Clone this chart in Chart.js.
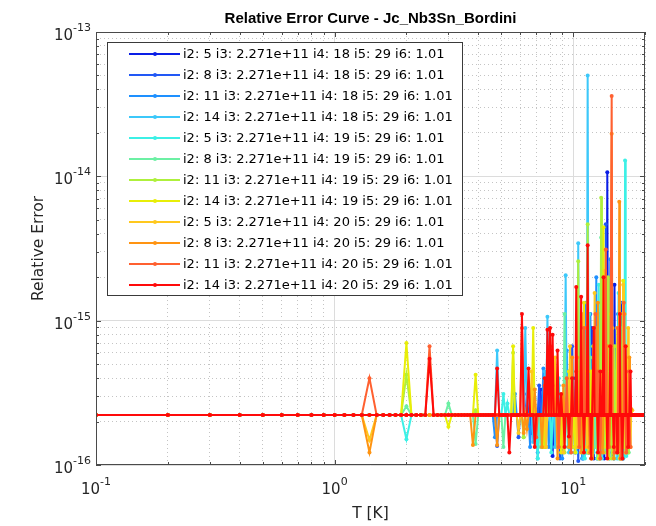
<!DOCTYPE html>
<html>
<head>
<meta charset="utf-8">
<script src="https://cdn.jsdelivr.net/npm/chart.js@4.4.0/dist/chart.umd.min.js"></script>
<style>
  html, body { margin: 0; padding: 0; background: #fff; }
  #wrap { width: 656px; height: 526px; }
</style>
</head>
<body>
<div id="wrap"><canvas id="chart" width="656" height="526"></canvas></div>
<script>
// relative error values are stored in units of machine eps
const EPS = 2.220446049250313e-16;

const T = [
  0.1,0.2,0.3,0.4,0.5,0.6,0.7,0.8,0.9,1.0, 1.1,1.2,1.3,1.4,1.5,1.6,1.7,1.8,1.9,2.0,
  2.1,2.2,2.3,2.4,2.5,2.6,2.7,2.8,2.9,3.0, 3.1,3.2,3.3,3.4,3.5,3.6,3.7,3.8,3.9,4.0,
  4.1,4.2,4.3,4.4,4.5,4.6,4.7,4.8,4.9,5.0, 5.1,5.2,5.3,5.4,5.5,5.6,5.7,5.8,5.9,6.0,
  6.1,6.2,6.3,6.4,6.5,6.6,6.7,6.8,6.9,7.0, 7.1,7.2,7.3,7.4,7.5,7.6,7.7,7.8,7.9,8.0,
  8.1,8.2,8.3,8.4,8.5,8.6,8.7,8.8,8.9,9.0, 9.1,9.2,9.3,9.4,9.5,9.6,9.7,9.8,9.9,10.0,
  10.1,10.2,10.3,10.4,10.5,10.6,10.7,10.8,10.9,11.0, 11.1,11.2,11.3,11.4,11.5,11.6,11.7,11.8,11.9,12.0,
  12.1,12.2,12.3,12.4,12.5,12.6,12.7,12.8,12.9,13.0, 13.1,13.2,13.3,13.4,13.5,13.6,13.7,13.8,13.9,14.0,
  14.1,14.2,14.3,14.4,14.5,14.6,14.7,14.8,14.9,15.0, 15.1,15.2,15.3,15.4,15.5,15.6,15.7,15.8,15.9,16.0,
  16.1,16.2,16.3,16.4,16.5,16.6,16.7,16.8,16.9,17.0, 17.1,17.2,17.3,17.4,17.5,17.6,17.7,17.8,17.9,18.0,
  18.1,18.2,18.3,18.4,18.5,18.6,18.7,18.8,18.9,19.0, 19.1,19.2,19.3,19.4,19.5,19.6,19.7,19.8,19.9,20.0
];

const seriesLabels = [
  'i2: 5 i3: 2.271e+11 i4: 18 i5: 29 i6: 1.01',
  'i2: 8 i3: 2.271e+11 i4: 18 i5: 29 i6: 1.01',
  'i2: 11 i3: 2.271e+11 i4: 18 i5: 29 i6: 1.01',
  'i2: 14 i3: 2.271e+11 i4: 18 i5: 29 i6: 1.01',
  'i2: 5 i3: 2.271e+11 i4: 19 i5: 29 i6: 1.01',
  'i2: 8 i3: 2.271e+11 i4: 19 i5: 29 i6: 1.01',
  'i2: 11 i3: 2.271e+11 i4: 19 i5: 29 i6: 1.01',
  'i2: 14 i3: 2.271e+11 i4: 19 i5: 29 i6: 1.01',
  'i2: 5 i3: 2.271e+11 i4: 20 i5: 29 i6: 1.01',
  'i2: 8 i3: 2.271e+11 i4: 20 i5: 29 i6: 1.01',
  'i2: 11 i3: 2.271e+11 i4: 20 i5: 29 i6: 1.01',
  'i2: 14 i3: 2.271e+11 i4: 20 i5: 29 i6: 1.01'
];

const seriesColors = [
  '#0a1ee6', '#2258f5', '#1e90ff', '#3cc8fa', '#3cf0e6', '#6cf0a4',
  '#aef03c', '#e8ee08', '#ffc81e', '#ff9412', '#ff6030', '#ff0a0a'
];

const errS1 = [
  1,1,1,1,1,1,1,1,1,1, 1,1,1,1,1,1,1,1,1,1, 1,1,1,1,1,1,1,1,1,1, 1,1,1,1,1,1,1,1,1,1, 1,1,1,1,1,1,1,1,1,1,
  1,1,1,1,1,1,1,1,1,1, 1,1,1,1,1,1,0.75,1,1,1, 1,1,1.5,1,1,0.6,1,1,1.3,1, 1,0.52,1,1,1,1.5,1,0.6,1,1, 0.67,1,1,1,2,1,1,0.6,1,1.8,
  1,0.55,1,2,1,1.5,1,0.6,1,0.5, 1,3,1,2.2,1,0.55,1,0.6,1,4, 1,0.5,3,1,1.6,1,0.55,1,5,1, 1.8,1,0.6,1,0.5,1,2,1,48,1, 1,0.6,1,3,2.5,1,0.53,1,8,1,
  1,0.6,3,1,1,0.55,1,2,6,1, 1,0.5,1,4,2,1,0.6,0.55,1,1.5
];
const errS2 = [
  1,1,1,1,1,1,1,1,1,1, 1,1,1,1,1,1,1,1,1,1, 1,1,1,1,1,1,1,1,1,1, 1,1,1,1,1,1,1,1,1,1, 1,1,1,1,1,1,1,0.61,1,1,
  1,1,1,1,1,1,1,1,0.7,1, 1,1,1,1.4,1,1,1,1,1,1, 1,1.6,1,1,0.6,1,1,2,1,1, 0.6,1,1,1.5,1,1,1,0.5,1,1, 1,1,2.5,1,1,1,0.65,1,3,1,
  1,1,1.8,1,0.48,1,1,2,1,1, 3,1,0.55,1,1,0.6,1,5,1,1, 1,0.6,1,1.75,1,0.5,1,1,1,4, 1,0.6,1,0.55,1,1,21,1,1,2.5, 0.6,1,1,7,1,0.55,1,0.5,1,3,
  1,2.5,1,0.55,0.6,1,1,4,1,1, 0.52,1,1,1.8,1,1,0.6,1
];
const errS3 = [
  1,1,1,1,1,1,1,1,1,1, 1,1,1,1,1,1,1,1,1,1, 1,1,1,1,1,1,1,1,1,1, 1,1,1,1,1,1,1,1,1,1, 1,1,1,1,1,1,0.7,1,1,1,
  1,1,1,1,1,1,1.4,1,1,1, 1,1,1,1,1,0.6,1,1,1,1, 0.55,1,1,1,2.1,1,1,1,0.6,1, 1,1.5,1,1,1.6,1,1,0.6,1,0.5, 1,1,1,2.8,1,1,1,1,0.6,1,
  1,1,1,4,1,0.6,1,1,0.5,1, 2,1,6,1,1,0.55,1,1,0.55,1, 1,3,1,1,9,1,0.6,1,0.5,1, 1,1,2.5,1,1,4,1,0.6,1,1, 1,0.5,12,1,1,2,1,0.55,1,1,
  1,0.6,1,5,1,1,0.5,1,2,3, 1,1,0.6,1,1,1.5
];
const errS4 = [
  1,1,1,1,1,1,1,1,1,1, 1,1,1,1,1,1,1,1,1,1, 1,1,1,1,1,1,1,1,1,1, 1,1,1,1,1,1,1,1,1,1, 1,1,1,1,1,1,1,2.8,1,1,
  1,1,1,1,1,1,1,1,1,1, 1,1,4,1,1,1,1,0.65,1,1, 0.5,1,1,1,1,2,1,4.8,1,1, 1,1,1,0.6,1,1,1.6,1,1,1, 1,1,9.3,1,1,0.55,1,1,2,1,
  1,0.6,1,1,15.5,1,1,3,1,0.5, 1,1,0.55,1,225,1,1,1,1,0.6, 1,4,1,1,3,1,1,1,0.5,1, 2,1,1,1,5,1,0.6,1,0.55,1, 1,7,1,1,2,1,1,1,0.6,1,
  1,1,0.5,1,3,1,6,1,1,0.55, 0.5,1,1,1,2.5,1
];
const errS5 = [
  1,1,1,1,1,1,1,1,1,1, 1,1,1,1,1,1,1,1,1,0.68, 1,1,1,1,1,1,1,1,1,1, 1,1,1,1,1,1,1,1,1,1, 1,1,1,1,1,1,1,1,1,1,
  1.4,1,1.2,1,1,1,1,1,1,1, 1,1,1,1,1,1,1,1,1.3,1, 0.5,1,1,1,1,1,1.8,1,1,1, 0.55,1,1,1,1,1,1.8,1,1,0.6, 1,1,1,1,0.6,1,1,2.2,1,1,
  1,1,0.55,1,1,1,3,1,1,1, 1,0.5,1,1,1,1,5,1,1,0.6, 1,0.55,1,2,1,1,1,8,1,1, 1,0.5,1,1,3,1,1,0.6,1,4, 1,1,1,0.6,1,1,2,1,0.5,1,
  1,0.6,1,1,7,1,1,1,0.55,1, 1,0.5,1,1,58,1,0.52,1,1.4
];
const errS6 = [
  1,1,1,1,1,1,1,1,1,1, 1,1,1,1,1,1,1,1,1,1.15, 1,1,1,1,1,1,1,1,1,1.2, 1,1,1,1,1,1,1,1,0.63,1, 1,1,1,1,1,1,1,1,1,1,
  0.6,1,1,1,1,1,1,1,1,1, 1,0.7,1,1,1,1,1.5,1,1,1, 1,1,0.6,1,1,1,1,1.4,1,1, 1,1,1.5,1,1,0.6,1,1,1,1, 1,5,1,1,1,1,1,0.55,1,1,
  1,1,0.6,1,1,2,1,1,4,1, 1,1,1,1,0.55,1,1,2.5,1,1, 3,1,1,0.6,1,0.5,1,1,1,1, 17,1,1,1,1,0.6,1,1,3,1, 1,6,1,1,1,1,0.55,1,1,2,
  1,3,1,1,1,0.5,1,1,1,2, 1,1,1,0.6,1,1,1,1.6,1,1, 0.55,1
];
const errS7 = [
  1,1,1,1,1,1,1,1,1,1, 1,1,1,1,1,1,1,1,1,1.9, 1,1,1,1,1,1,1,1,1,1, 1,1,1,1,1,1,1,1,1.08,1, 1,1,1,1,1,1,1,1,1,1,
  1,1,1,1,1,2.7,1,1,1,1, 1,0.7,1,1,1,1,1,1,1,1, 1,1,1,1,1,0.6,1,1,2.2,1, 1,1,1,1,1.7,1,1,1,0.6,1, 1,0.55,1,1,1,1.5,1,1,0.6,1,
  1,1,1,1,11.6,1,1,0.6,1,0.55, 1,2,1,1,21,1,1,1,0.5,1, 1,1,1,1,4,1,0.6,1,1,1, 32,1,1,1,0.55,1,1,3,1,9, 1,1,0.6,1,0.5,1,1,1,3,1,
  1,1,1,0.55,1,1,1,5,1,1, 1,1,0.6,1,1,1,2.5,1,1,0.55, 1
];
const errS8 = [
  1,1,1,1,1,1,1,1,1,1, 1,1,1,1,1,1,1,1,1,3.15, 1,1,1,1,1,1,1,1,1,0.83, 1,1,1,1,1,1,1,1,1.9,1, 1,1,1,1,1,1,1,1,1,1,
  1,1,1,1,1,3,1,1,1,1, 1,1,1,1,1,1,1,4,1,1, 1,1,1,1,0.6,1,1,1,1,1, 1,1.8,1,1,1,1,1,1,0.55,1, 1,1,1,1,1,2,1,1,0.6,1,
  1,0.55,1,1,0.6,1,1,1.8,1,1, 6,1,1,1,1,0.55,1,1,2,1, 1,3,1,1,2.4,1,1,0.5,1,1, 0.6,1,1,20,1,1,1,0.6,1,1, 0.5,1,1,5,1,1,1,0.55,1,1,
  1,1,4,1,1,1,0.5,1,1,1, 1,8.5,1,1,1,0.55,1,1,1,2, 1,1,0.6
];
const errS9 = [
  1,1,1,1,1,1,1,1,1,1, 1,1,1,0.67,1,1,1,1,1,1, 1,1,1,1,1,1,1,1,1,1, 1,1,1,1,1,1,1,1,1,1, 1,1,1,1,1,1,1,1,1,1,
  1,1,1,1,1,1,1,1,0.75,1, 1,1,1,1,1,1,2,1,1,1, 1,1,1,1,1,1,0.6,1,1,1.5, 1,1,1,2.5,1,1,0.6,1,1,1, 0.55,1,1,1,1,1,3,1,1,1,
  1,1,1,0.6,1,1,2,1,1,5, 1,1,1,0.6,1,1,0.55,1,1,1, 1,1,7,1,1,1,1,1,0.5,1, 1,2,1,1,1,10,1,1,0.6,1, 0.6,1,1,1,1,4,1,1,1,0.55,
  1,1,1,1,3,1,1,1,0.5,1, 1,8,1,1,1,0.55,1,1,1,4, 1,1,1,0.6,1,1,1.08
];
const errS10 = [
  1,1,1,1,1,1,1,1,1,1, 1,1,1,0.55,1,1,1,1,1,1, 1,1,1,1,1,1,1,1,1,1, 1,1,1,1,1,1,1,0.62,1,1, 1,1,1,1,1,1,1,0.62,1,1,
  1,1,1,1,1,1,1,1,1,1, 1,0.75,1,0.8,1,1,1,1,1.5,1, 1,1,1,0.6,1,1,1,1,1,1, 1,1.6,1,1,1,0.5,1,1,1,1, 1.6,1,1,1,1,0.6,1,1,2.5,1,
  1,1,1,2.5,1,1,1,0.55,1,1, 1,1,1,4,1,1,0.6,1,1,0.5, 1,1,2,1,1,1,6,1,1,1, 1,1,0.55,1,1,1,1,1,3,1, 1,0.6,1,1,89,1,1,0.5,1,1,
  1,1,0.55,1,1,30,1,1,1,0.5, 1,1,1,5,1,1,1,0.6,1,1, 1,2.5,1,1,1.1
];
const errS11 = [
  1,1,1,1,1,1,1,1,1,1, 1,1,1,1.8,1,1,1,1,1,1, 1,1,1,1,3,1,1,1,1,1, 1,1,1,1,1,1,1,1,1,1, 1,1,1,1,1,1,1,1,1,1,
  1,1,1,1,1,1,1,1,1,1, 4,1,1,1,1,1,1,1,1,0.7, 1,1,1,1,1,1.6,1,1,1,3, 1,1,1,1,1,1,0.6,1,1,1, 1,1,1,1.8,1,1,1,0.55,1,1,
  1,1,2,1,1,0.6,1,1,1,1, 4,1,1,1,1,1,1,0.55,1,1, 1,1,1,5,1,1,2,1,1,0.5, 1,1,1,1,1,1,14,1,1,1, 0.6,1,1,1,162,1,1,1,0.55,1,
  1,1,1,4,1,1,1,0.5,1,1, 1,1,6,1,1,1,0.55,1,1,1, 2,1,1,0.6
];
const errS12 = [
  1,1,1,1,1,1,1,1,1,1, 1,1,1,1,1,1,1,1,1,1, 1,1,1,1,2.45,1,1,1,1,1, 1,1,1,1,1,1,1,1,1,1, 1,1,1,1,1,1,1,2.1,1,1,
  1,1,1,0.55,1,1,1,1,1,1, 5,1,1,1,2.1,1,1,1,0.6,1, 1,1,1,1,1,1.8,1,3.9,1,4, 1,3.6,1,1,1,2.8,1,1,1.4,1, 1,0.6,1,1,1,0.71,1,1,1.8,1,
  1,1,7.7,1,1,1,1,6.6,1,1, 0.55,1,1,1,15,1,1,1,0.5,1, 1,4,1,1,1,1,0.55,1,1,2, 1,1,1,9,1,1,1,1,0.5,1, 1,1,3,1,1,1,1,0.6,1,1,
  1,1,0.55,1,1,1,5,1,1,1, 0.5,1,1,1,1,3,1,1,1,0.6, 1,1,1,2,1,1,1,1,1,1, 1,1,1,1,1,1,1,1,1,1, 1,1,1,1,1,1,1,1,1,1
];
const errSeries = [errS1, errS2, errS3, errS4, errS5, errS6, errS7, errS8, errS9, errS10, errS11, errS12];

// axis limits and decade tick labels
const xMin = 0.1, xMax = 20;
const yMin = 1e-16, yMax = 1e-13;
const xMajorTicks = [0.1, 1, 10];
const xTickExps = ['-1', '0', '1'];
const yMajorTicks = [1e-16, 1e-15, 1e-14, 1e-13];
const yTickExps = ['-16', '-15', '-14', '-13'];

function logTicks(majors, max) {
  const out = [];
  majors.forEach(m => {
    for (let k = 1; k <= 9; k++) {
      const v = m * k;
      if (v <= max * 1.0000001) out.push(v);
    }
  });
  if (out[out.length - 1] < max) out.push(max);
  return out;
}
const xAllTicks = logTicks(xMajorTicks, xMax);
const yAllTicks = logTicks(yMajorTicks.slice(0, 3), yMax);

function isDecade(v) {
  const l = Math.log10(v);
  return Math.abs(l - Math.round(l)) < 1e-6;
}

const FONT = 'DejaVu Sans';

const datasets = errSeries.map((vals, i) => ({
  label: seriesLabels[i],
  data: vals.map((v, k) => ({ x: T[k], y: v * EPS })),
  borderColor: seriesColors[i],
  backgroundColor: seriesColors[i],
  borderWidth: 2,
  pointRadius: 2,
  pointBorderWidth: 0,
  pointHoverRadius: 0,
  tension: 0,
  order: errSeries.length - i
}));

// frame, inward ticks, exponent labels, titles and the boxed legend
const matlabLook = {
  id: 'matlabLook',
  afterDraw(chart) {
    const ctx = chart.ctx;
    const a = chart.chartArea;
    const xs = chart.scales.x, ys = chart.scales.y;
    ctx.save();

    // frame
    ctx.strokeStyle = '#4a4a4a';
    ctx.lineWidth = 1;
    ctx.strokeRect(a.left + 0.5, a.top + 0.5, a.right - a.left - 1, a.bottom - a.top - 1);

    // inward ticks
    ctx.beginPath();
    xAllTicks.forEach(v => {
      const px = Math.round(xs.getPixelForValue(v)) + 0.5;
      const len = isDecade(v) ? 5 : 3;
      ctx.moveTo(px, a.bottom); ctx.lineTo(px, a.bottom - len);
      ctx.moveTo(px, a.top); ctx.lineTo(px, a.top + len);
    });
    yAllTicks.forEach(v => {
      const py = Math.round(ys.getPixelForValue(v)) + 0.5;
      const len = isDecade(v) ? 5 : 3;
      ctx.moveTo(a.left, py); ctx.lineTo(a.left + len, py);
      ctx.moveTo(a.right, py); ctx.lineTo(a.right - len, py);
    });
    ctx.stroke();

    // tick labels 10^n
    ctx.fillStyle = '#262626';
    ctx.textBaseline = 'alphabetic';
    const baseFont = '15px ' + FONT, expFont = '11px ' + FONT;
    xMajorTicks.forEach((v, i) => {
      const px = xs.getPixelForValue(v);
      ctx.font = baseFont;
      const w1 = ctx.measureText('10').width;
      ctx.font = expFont;
      const w2 = ctx.measureText(xTickExps[i]).width;
      const x0 = px - (w1 + w2) / 2;
      ctx.font = baseFont;
      ctx.textAlign = 'left';
      ctx.fillText('10', x0, a.bottom + 29);
      ctx.font = expFont;
      ctx.fillText(xTickExps[i], x0 + w1, a.bottom + 20);
    });
    yMajorTicks.forEach((v, i) => {
      const py = ys.getPixelForValue(v);
      ctx.font = expFont;
      const w2 = ctx.measureText(yTickExps[i]).width;
      const xr = a.left - 5;
      ctx.textAlign = 'right';
      ctx.fillText(yTickExps[i], xr, py - 1);
      ctx.font = baseFont;
      ctx.fillText('10', xr - w2, py + 8);
    });

    // title and axis labels
    const cx = (a.left + a.right) / 2;
    ctx.textAlign = 'center';
    ctx.fillStyle = '#000';
    ctx.font = 'bold 15px "Liberation Sans"';
    ctx.fillText('Relative Error Curve - Jc_Nb3Sn_Bordini', cx, 23);
    ctx.fillStyle = '#262626';
    ctx.font = '15.5px ' + FONT;
    ctx.fillText('T [K]', cx, a.bottom + 53);
    ctx.save();
    ctx.translate(43, (a.top + a.bottom) / 2);
    ctx.rotate(-Math.PI / 2);
    ctx.fillText('Relative Error', 0, 0);
    ctx.restore();

    // legend box
    const lx = 107, ly = 42, lw = 355, lh = 253, rowH = 21;
    ctx.fillStyle = '#fff';
    ctx.fillRect(lx, ly, lw, lh);
    ctx.strokeStyle = '#3a3a3a';
    ctx.lineWidth = 1;
    ctx.strokeRect(lx + 0.5, ly + 0.5, lw, lh);
    ctx.font = '13px ' + FONT;
    ctx.textAlign = 'left';
    ctx.textBaseline = 'middle';
    chart.data.datasets.forEach((ds, i) => {
      const y = ly + 12 + i * rowH;
      ctx.strokeStyle = ds.borderColor;
      ctx.lineWidth = 2;
      ctx.beginPath();
      ctx.moveTo(129, y); ctx.lineTo(180, y);
      ctx.stroke();
      ctx.fillStyle = ds.borderColor;
      ctx.beginPath();
      ctx.arc(155, y, 2, 0, Math.PI * 2);
      ctx.fill();
      ctx.fillStyle = '#000';
      ctx.fillText(ds.label, 183, y + 1);
    });
    ctx.restore();
  }
};

new Chart(document.getElementById('chart'), {
  type: 'line',
  data: { datasets },
  options: {
    responsive: false,
    animation: false,
    devicePixelRatio: 1,
    layout: { padding: { left: 96, right: 11, top: 32, bottom: 61 } },
    plugins: { legend: { display: false }, tooltip: { enabled: false }, title: { display: false } },
    scales: {
      x: {
        type: 'logarithmic',
        min: xMin, max: xMax,
        afterBuildTicks: s => { s.ticks = xAllTicks.map(v => ({ value: v })); },
        ticks: { display: false },
        grid: {
          drawTicks: false,
          color: c => isDecade(c.tick.value) ? '#dcdcdc' : '#c4c4c4',
          lineWidth: 1
        },
        border: { display: false, dash: c => isDecade(c.tick.value) ? [] : [1, 3] }
      },
      y: {
        type: 'logarithmic',
        min: yMin, max: yMax,
        afterBuildTicks: s => { s.ticks = yAllTicks.map(v => ({ value: v })); },
        ticks: { display: false },
        grid: {
          drawTicks: false,
          color: c => isDecade(c.tick.value) ? '#dcdcdc' : '#c4c4c4',
          lineWidth: 1
        },
        border: { display: false, dash: c => isDecade(c.tick.value) ? [] : [1, 3] }
      }
    }
  },
  plugins: [matlabLook]
});
</script>
</body>
</html>
